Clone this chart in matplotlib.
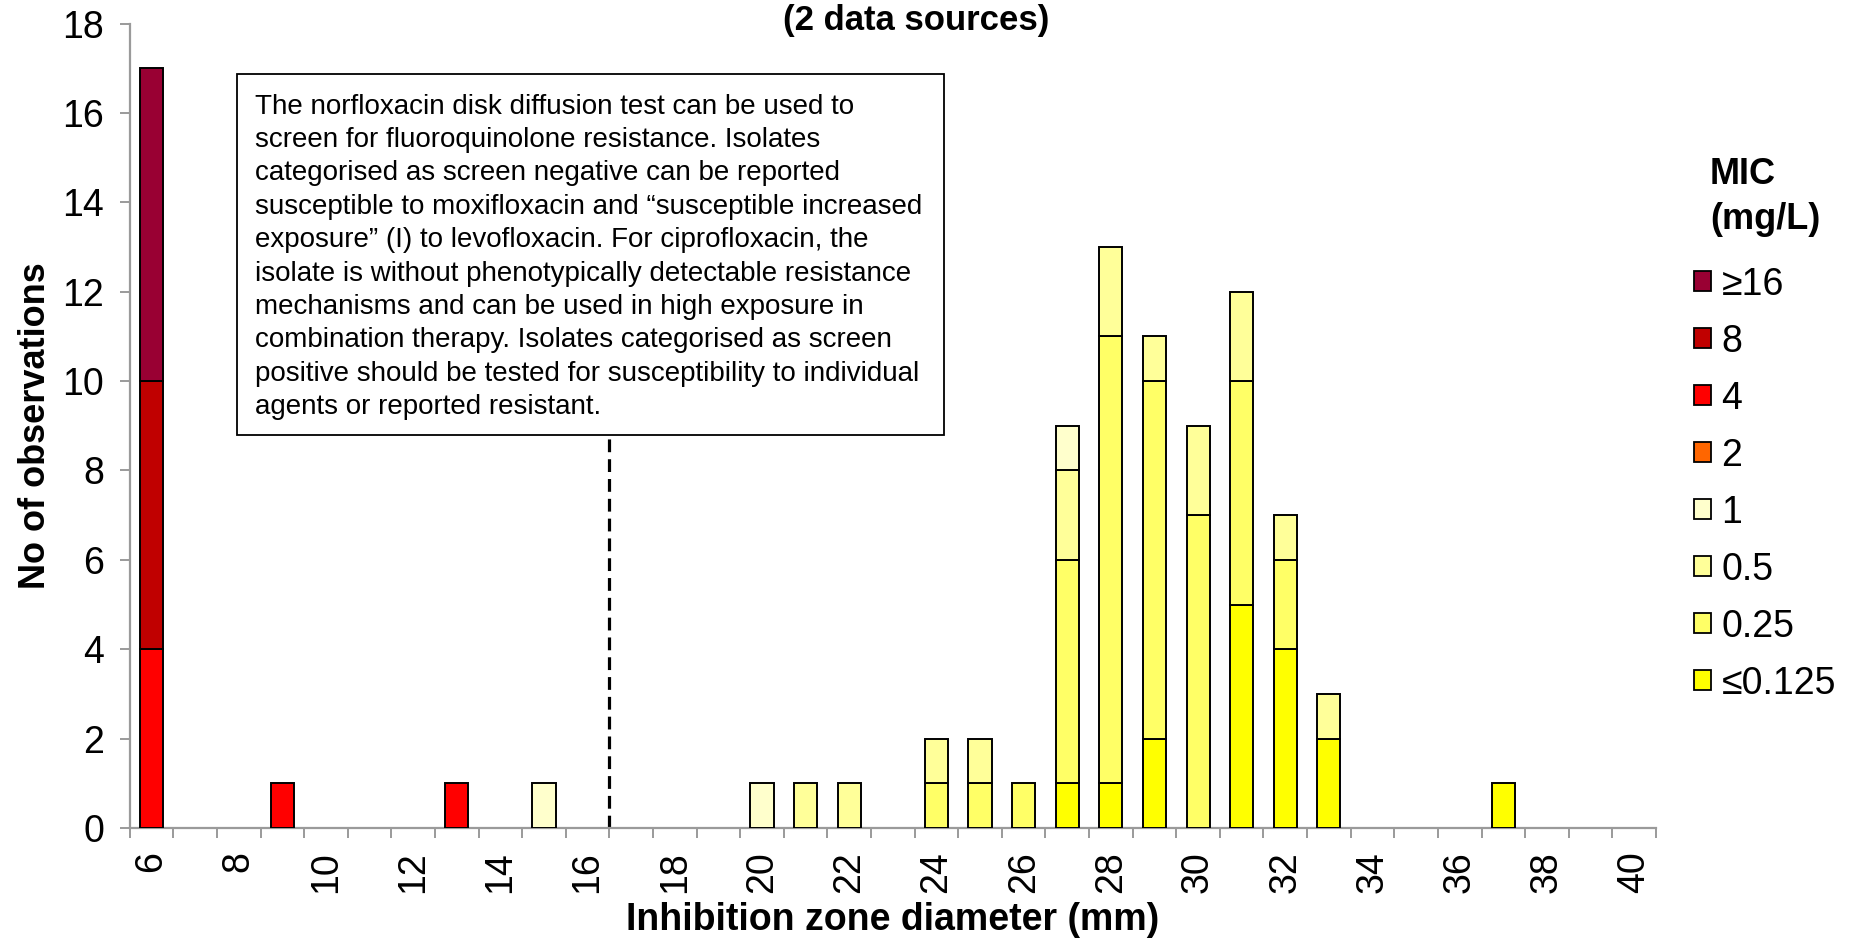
import matplotlib
matplotlib.use("Agg")
import matplotlib.pyplot as plt
from matplotlib.patches import Patch, Rectangle
import numpy as np

# ---------------- data ----------------
diameters = list(range(6, 41))  # inhibition zone diameter (mm)

mic_labels = ["\u22640.125", "0.25", "0.5", "1", "2", "4", "8", "\u226516"]
mic_colors = ["#FFFF00", "#FFFF66", "#FFFF99", "#FFFFCC", "#FF6600", "#FF0000", "#C00000", "#990033"]

#              6  7  8  9 10 11 12 13 14 15 16 17 18 19 20 21 22 23 24 25 26 27 28 29 30 31 32 33 34 35 36 37 38 39 40
mic_le0125 = [0, 0, 0, 0, 0, 0, 0, 0, 0, 0, 0, 0, 0, 0, 0, 0, 0, 0, 0, 0, 0, 1, 1, 2, 0, 5, 4, 2, 0, 0, 0, 1, 0, 0, 0]
mic_025    = [0, 0, 0, 0, 0, 0, 0, 0, 0, 0, 0, 0, 0, 0, 0, 0, 0, 0, 1, 1, 1, 5, 10, 8, 7, 5, 2, 0, 0, 0, 0, 0, 0, 0, 0]
mic_05     = [0, 0, 0, 0, 0, 0, 0, 0, 0, 0, 0, 0, 0, 0, 0, 1, 1, 0, 1, 1, 0, 2, 2, 1, 2, 2, 1, 1, 0, 0, 0, 0, 0, 0, 0]
mic_1      = [0, 0, 0, 0, 0, 0, 0, 0, 0, 1, 0, 0, 0, 0, 1, 0, 0, 0, 0, 0, 0, 1, 0, 0, 0, 0, 0, 0, 0, 0, 0, 0, 0, 0, 0]
mic_2      = [0] * 35
mic_4      = [4, 0, 0, 1, 0, 0, 0, 1, 0, 0, 0, 0, 0, 0, 0, 0, 0, 0, 0, 0, 0, 0, 0, 0, 0, 0, 0, 0, 0, 0, 0, 0, 0, 0, 0]
mic_8      = [6, 0, 0, 0, 0, 0, 0, 0, 0, 0, 0, 0, 0, 0, 0, 0, 0, 0, 0, 0, 0, 0, 0, 0, 0, 0, 0, 0, 0, 0, 0, 0, 0, 0, 0]
mic_ge16   = [7, 0, 0, 0, 0, 0, 0, 0, 0, 0, 0, 0, 0, 0, 0, 0, 0, 0, 0, 0, 0, 0, 0, 0, 0, 0, 0, 0, 0, 0, 0, 0, 0, 0, 0]

series = [mic_le0125, mic_025, mic_05, mic_1, mic_2, mic_4, mic_8, mic_ge16]

screen_breakpoint = 16.5
y_ticks = list(range(0, 19, 2))
x_tick_labels = [d for d in diameters if d % 2 == 0]

title_text = "(2 data sources)"
xlabel_text = "Inhibition zone diameter (mm)"
ylabel_text = "No of observations"
legend_title = "MIC\n(mg/L)"
note_text = ("The norfloxacin disk diffusion test can be used to\n"
             "screen for fluoroquinolone resistance. Isolates\n"
             "categorised as screen negative can be reported\n"
             "susceptible to moxifloxacin and \u201csusceptible increased\n"
             "exposure\u201d (I) to levofloxacin. For ciprofloxacin, the\n"
             "isolate is without phenotypically detectable resistance\n"
             "mechanisms and can be used in high exposure in\n"
             "combination therapy. Isolates categorised as screen\n"
             "positive should be tested for susceptibility to individual\n"
             "agents or reported resistant.")

plt.rcParams["font.family"] = ["Liberation Sans", "DejaVu Sans"]
axis_gray = "#9A9A9A"

# ---------------- figure ----------------
fig = plt.figure(figsize=(18.5, 9.43), dpi=100)
ax = fig.add_axes([0.0701, 0.122, 0.825, 0.853])

x_arr = np.array(diameters, dtype=float)
bottom = np.zeros(len(diameters))
for vals, col in zip(series, mic_colors):
    vals = np.array(vals, dtype=float)
    nz = vals > 0
    if nz.any():
        ax.bar(x_arr[nz], vals[nz], width=0.53, bottom=bottom[nz], color=col,
               edgecolor="black", linewidth=1.4, zorder=3)
    bottom += vals

ax.set_xlim(diameters[0] - 0.5, diameters[-1] + 0.5)
ax.set_ylim(0, 18)

# dashed screening breakpoint line (ends beneath the note box)
ax.axvline(screen_breakpoint, ymin=0, ymax=0.6, color="black", linewidth=2.3,
           linestyle=(0, (4, 2.2)), zorder=2)

# spines
for s in ["top", "right"]:
    ax.spines[s].set_visible(False)
for s in ["left", "bottom"]:
    ax.spines[s].set_color(axis_gray)
    ax.spines[s].set_linewidth(1.6)

# ticks
ax.set_yticks(y_ticks)
ax.set_yticklabels([str(v) for v in y_ticks])
ax.tick_params(axis="y", direction="out", length=7.5, width=1.4, color=axis_gray,
               labelsize=27, pad=11)
ax.set_xticks(x_tick_labels)
ax.set_xticklabels([str(v) for v in x_tick_labels], rotation=90)
ax.set_xticks(np.arange(diameters[0] - 0.5, diameters[-1] + 1.0, 1.0), minor=True)
ax.tick_params(axis="x", which="major", length=0, labelsize=27, pad=17)
ax.tick_params(axis="x", which="minor", direction="out", length=7.5, width=1.4,
               color=axis_gray)

ax.set_xlabel(xlabel_text, fontsize=27, fontweight="bold", labelpad=6)
ax.set_ylabel(ylabel_text, fontsize=26, fontweight="bold", labelpad=7)

# title (partly visible in reference)
fig.text(0.495, 0.978, title_text, ha="center", va="center", fontsize=25,
         fontweight="bold")

# note box
ax.add_patch(Rectangle((0.0703, 0.4886), 0.4632, 0.4484, transform=ax.transAxes,
                       facecolor="white", edgecolor="black", linewidth=1.3, zorder=6))
ax.text(0.0821, 0.913, note_text, transform=ax.transAxes, ha="left", va="top",
        fontsize=20, linespacing=1.37, zorder=7)

# legend
handles = [Patch(facecolor=c, edgecolor="black", linewidth=1.3, label=l)
           for l, c in zip(mic_labels, mic_colors)][::-1]
leg = fig.legend(handles=handles, loc="upper left", bbox_to_anchor=(0.9076, 0.8495),
                 frameon=False, fontsize=27, title=legend_title,
                 title_fontproperties={"weight": "bold", "size": 26},
                 handlelength=0.45, handleheight=0.45, handletextpad=0.28,
                 labelspacing=0.56, borderaxespad=0)
leg.get_title().set_linespacing(1.38)
leg._legend_box.align = "center"
leg._legend_box.sep = leg._legend_box.sep + 6

fig.savefig("out.png", dpi=100)
